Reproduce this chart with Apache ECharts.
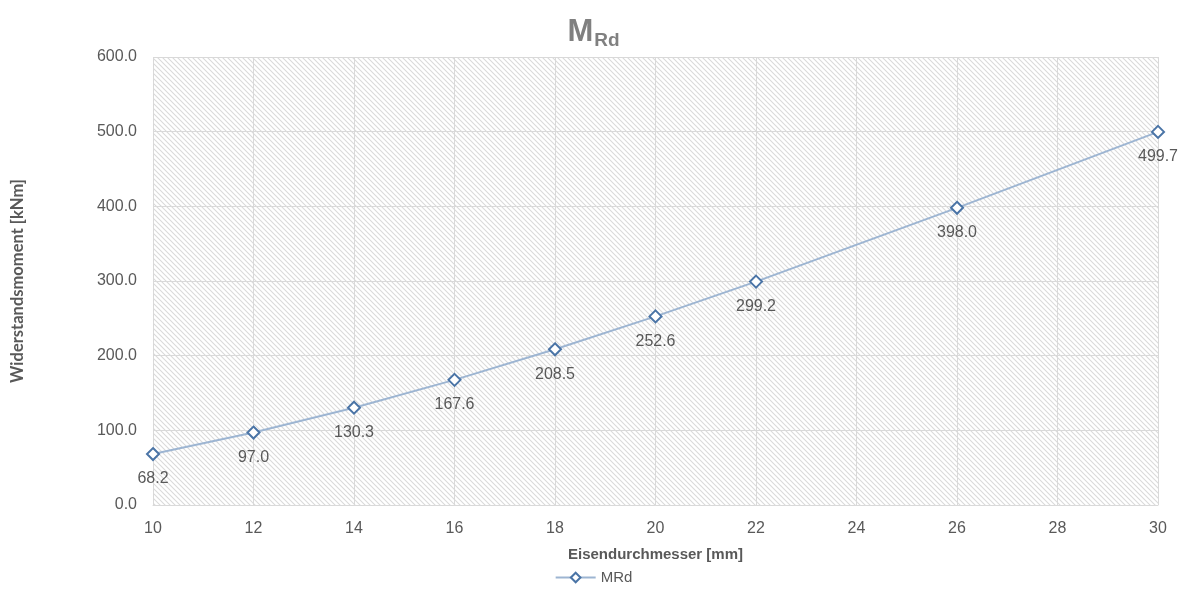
<!DOCTYPE html>
<html>
<head>
<meta charset="utf-8">
<style>
  html, body { margin: 0; padding: 0; background: #fff; }
  #chart { width: 1187px; height: 594px; }
</style>
<script src="https://cdn.jsdelivr.net/npm/echarts@6/dist/echarts.min.js"></script>
</head>
<body>
<div id="chart"></div>
<script>
// Bar diameter [mm] and resisting moment [kNm]
const diameters = [10, 12, 14, 16, 18, 20, 22, 26, 30];
const moments = [68.2, 97.0, 130.3, 167.6, 208.5, 252.6, 299.2, 398.0, 499.7];
const seriesName = 'MRd';

// Diagonal hatch tile for the plot background
function hatchTile() {
  const s = 5;
  const c = document.createElement('canvas');
  c.width = s; c.height = s;
  const g = c.getContext('2d');
  g.fillStyle = '#ffffff';
  g.fillRect(0, 0, s, s);
  g.strokeStyle = '#dadada';
  g.lineWidth = 1.1;
  g.beginPath();
  g.moveTo(-1, -1); g.lineTo(s + 1, s + 1);
  g.moveTo(-1, s - 1); g.lineTo(1, s + 1);
  g.moveTo(s - 1, -1); g.lineTo(s + 1, 1);
  g.stroke();
  return c;
}

const chart = echarts.init(document.getElementById('chart'));
const textColor = '#595959';

chart.setOption({
  animation: false,
  title: {
    text: '{m|M}{s|Rd}',
    left: 'center',
    top: 10,
    textStyle: {
      rich: {
        m: { fontFamily: 'Liberation Sans', fontWeight: 'bold', fontSize: 31, color: '#808080' },
        s: { fontFamily: 'Liberation Sans', fontWeight: 'bold', fontSize: 19, color: '#808080', padding: [16, 0, 0, 1] }
      }
    }
  },
  grid: {
    left: 153, right: 29, top: 57, bottom: 89,
    show: true,
    borderWidth: 0,
    backgroundColor: { image: hatchTile(), repeat: 'repeat' }
  },
  legend: {
    bottom: 4,
    left: 'center',
    itemWidth: 40,
    itemHeight: 12,
    itemGap: 4,
    data: [seriesName],
    textStyle: { fontFamily: 'Liberation Sans', fontSize: 15, color: textColor }
  },
  xAxis: {
    type: 'value',
    min: 10, max: 30, interval: 2,
    name: 'Eisendurchmesser [mm]',
    nameLocation: 'middle',
    nameGap: 42,
    nameTextStyle: { fontFamily: 'Liberation Sans', fontWeight: 'bold', fontSize: 15, color: textColor },
    axisLine: { show: true, lineStyle: { color: '#d9d9d9' } },
    axisTick: { show: false },
    axisLabel: { fontFamily: 'Liberation Sans', fontSize: 16, color: textColor, margin: 16 },
    splitLine: { show: true, lineStyle: { color: '#d9d9d9', width: 1 } }
  },
  yAxis: {
    type: 'value',
    min: 0, max: 600, interval: 100,
    name: 'Widerstandsmoment [kNm]',
    nameLocation: 'middle',
    nameGap: 127,
    nameRotate: 90,
    nameTextStyle: { fontFamily: 'Lato', fontWeight: 'bold', fontSize: 16.5, color: textColor },
    axisLine: { show: false },
    axisTick: { show: false },
    axisLabel: {
      fontFamily: 'Liberation Sans', fontSize: 16, color: textColor, margin: 16,
      formatter: v => v.toFixed(1)
    },
    splitLine: { show: true, lineStyle: { color: '#d9d9d9', width: 1 } }
  },
  series: [{
    name: seriesName,
    type: 'line',
    data: diameters.map((d, i) => [d, moments[i]]),
    symbol: 'diamond',
    symbolSize: 12,
    lineStyle: { color: '#9db5d2', width: 2 },
    itemStyle: { color: '#ffffff', borderColor: '#4a74a6', borderWidth: 2 },
    label: {
      show: true,
      position: 'bottom',
      distance: 10,
      fontFamily: 'Liberation Sans',
      fontSize: 16,
      color: textColor,
      formatter: p => p.value[1].toFixed(1)
    }
  }]
});
</script>
</body>
</html>
